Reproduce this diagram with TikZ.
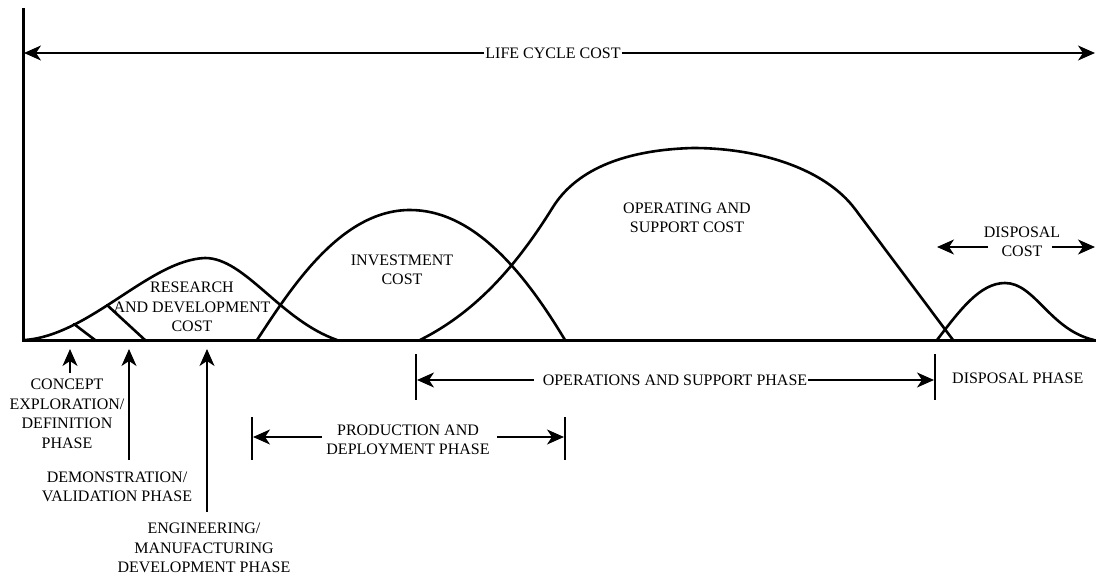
\documentclass[tikz,border=0pt]{standalone}
\usepackage{fontspec}
\setmainfont{Liberation Serif}
\usetikzlibrary{arrows.meta,positioning,calc}

\tikzset{
  lbl/.style={align=center, inner sep=1pt, font=\fontsize{16}{19.5}\selectfont},
  curve/.style={line width=2.6pt, line join=round, line cap=round},
  axisline/.style={line width=3pt},
  dimline/.style={line width=1.5pt, -{Stealth[length=17pt,width=15pt,inset=5pt]}},
  barline/.style={line width=1.8pt},
  ptrline/.style={line width=1.6pt, -{Stealth[length=17pt,width=15pt,inset=5pt]}},
}

\begin{document}
\begin{tikzpicture}[x=1pt, y=-1pt]
    \useasboundingbox (0,0) rectangle (1096,578);

    % axes
    \coordinate (top) at (23,8);
    \coordinate (orig) at (23,340);
    \coordinate (xend) at (1096,340);
    \draw[axisline] (top) -- (orig) -- (xend);

    % life cycle cost
    \node[lbl] (lcc) at (553,53) {LIFE CYCLE COST};
    \coordinate (lccl) at (24,53);
    \coordinate (lccr) at (1095,53);
    \draw[dimline] (lcc.west) -- (lccl);
    \draw[dimline] (lcc.east) -- (lccr);

    % cost curves
    \draw[curve] (25,340) .. controls (90,335) and (150,260) .. (205,258)
                 .. controls (245,258) and (280,320) .. (337,340);
    \draw[curve] (74,324) -- (95,340);
    \draw[curve] (107,305) -- (145,340);
    \draw[curve] (257,340) .. controls (290,290) and (340,210) .. (410,210)
                 .. controls (470,210) and (520,265) .. (565,340);
    \draw[curve] (420,340) .. controls (480,310) and (520,260) .. (553,207)
                 .. controls (575,172) and (620,150) .. (693,148)
                 .. controls (760,148) and (825,169) .. (855,209) -- (953,340);
    \draw[curve] (937,340) .. controls (960,310) and (980,283) .. (1005,283)
                 .. controls (1035,283) and (1050,330) .. (1094,340);

    % cost labels
    \node[lbl] (rdc) at (192,307) {RESEARCH\\AND DEVELOPMENT\\COST};
    \node[lbl] (invc) at (402,270) {INVESTMENT\\COST};
    \node[lbl] (osc) at (687,218) {OPERATING AND\\SUPPORT COST};
    \node[lbl] (dispc) at (1022,242) {DISPOSAL\\COST};
    \coordinate (dcl) at (937,247);
    \coordinate (dcr) at (1095,247);
    \draw[dimline] (988,247) -- (dcl);
    \draw[dimline] (1052,247) -- (dcr);

    % early phases
    \node[lbl] (cedp) at (67,414) {CONCEPT\\EXPLORATION/\\DEFINITION\\PHASE};
    \node[lbl] (dvp) at (117,487) {DEMONSTRATION/\\VALIDATION PHASE};
    \node[lbl] (emdp) at (204,548) {ENGINEERING/\\MANUFACTURING\\DEVELOPMENT PHASE};
    \draw[ptrline] (70,373) -- (70,349);
    \draw[ptrline] (129,460) -- (129,349);
    \draw[ptrline] (207,512) -- (207,349);

    % production and deployment phase
    \node[lbl] (pdp) at (408,440) {PRODUCTION AND\\DEPLOYMENT PHASE};
    \draw[barline] (252,417) -- (252,460);
    \draw[barline] (565,417) -- (565,460);
    \draw[dimline] (322,437) -- (253,437);
    \draw[dimline] (497,437) -- (564,437);

    % operations and support phase
    \node[lbl] (osp) at (675,380) {OPERATIONS AND SUPPORT PHASE};
    \draw[barline] (416,354) -- (416,400);
    \draw[barline] (935,354) -- (935,400);
    \draw[dimline] ($(osp.west)+(-8,0)$) -- (417,380);
    \draw[dimline] (osp.east) -- (934,380);

    % disposal phase
    \node[lbl, right=16pt of {(935,378)}] (dp) {DISPOSAL PHASE};
\end{tikzpicture}
\end{document}
